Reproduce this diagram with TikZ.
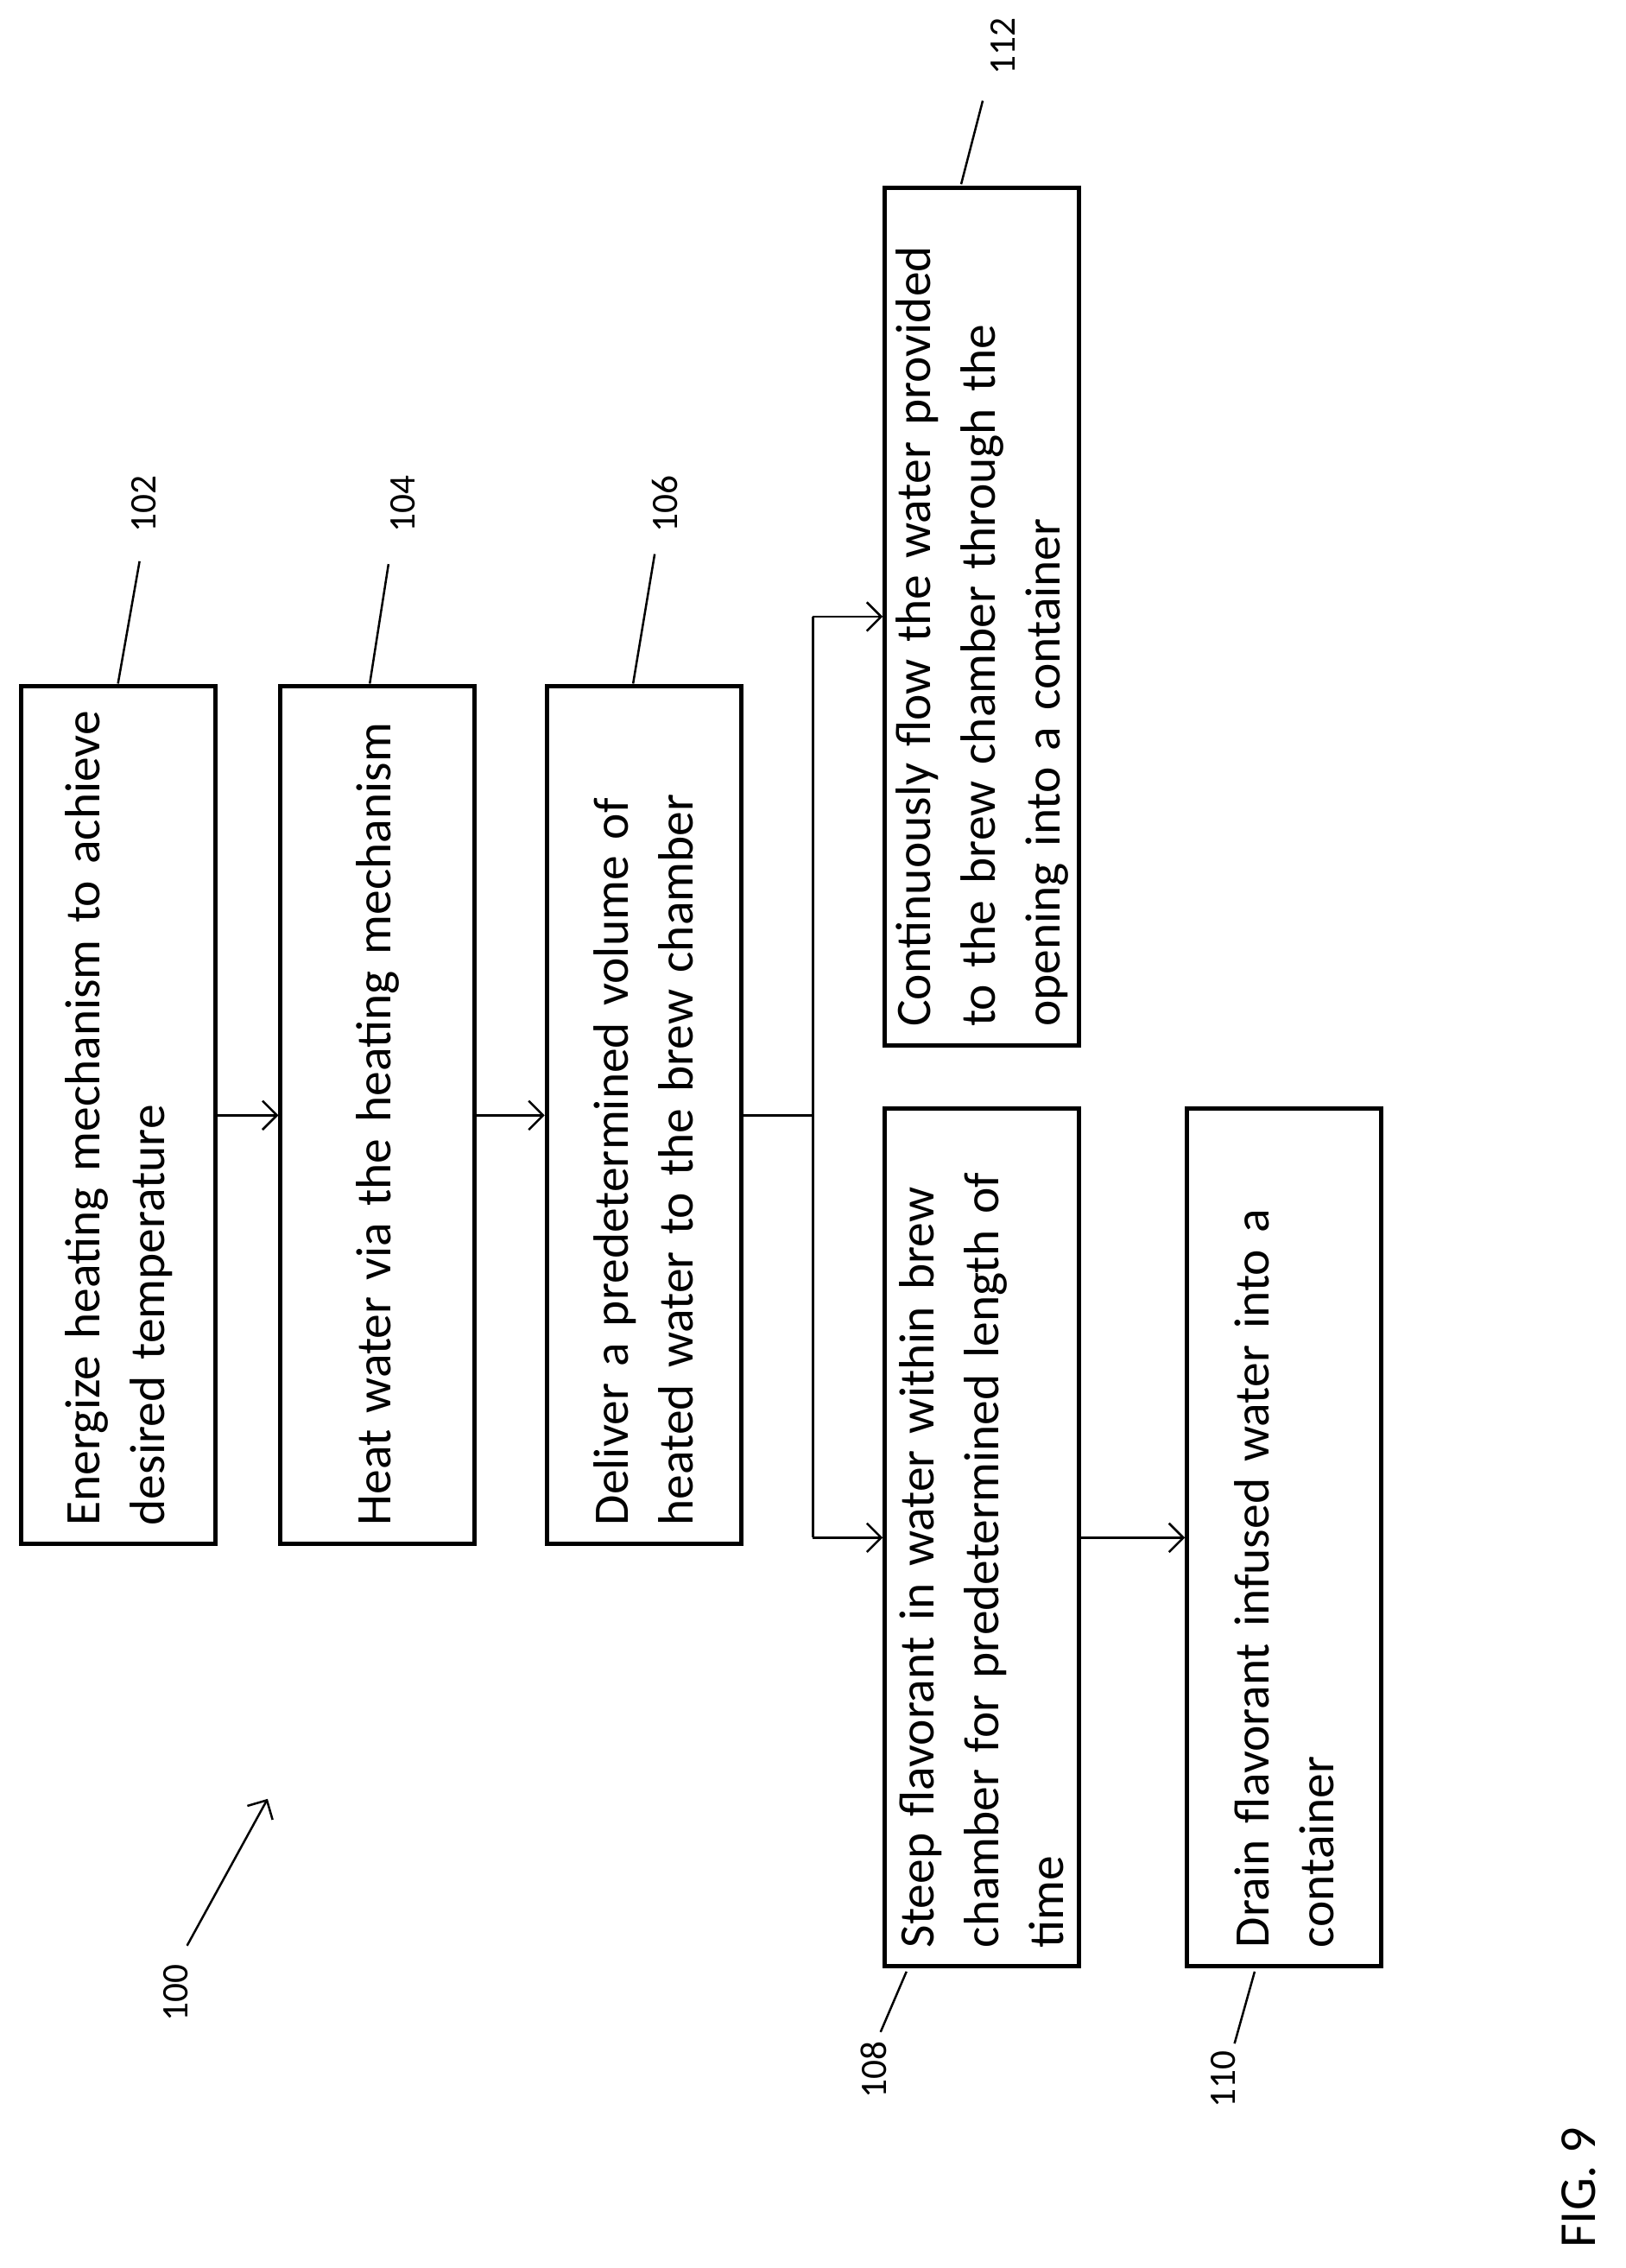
\documentclass[tikz,border=0pt]{standalone}
\usepackage{fontspec}
\setmainfont{Carlito}
\usetikzlibrary{arrows.meta}
\begin{document}
\begin{tikzpicture}[x=1pt,y=-1pt,
  box/.style={draw,line width=3pt,rotate=90,minimum width=596pt,minimum height=135pt,text width=570pt,align=left,inner sep=0pt,font=\fontsize{34.5}{45}\selectfont},
  lab/.style={rotate=90,font=\fontsize{26}{30}\selectfont},
  con/.style={line width=1.5pt},
  arr/.style={con,-{Straight Barb[length=10pt,width=20pt,line width=1.5pt]}}]
\useasboundingbox (0,0) rectangle (1130,1576);
\node[box] (b102) at (82.5,775) {Energize heating mechanism to achieve\\ desired temperature};
\node[box] (b104) at (262.5,775) {Heat water via the heating mechanism};
\node[box] (b106) at (447.5,775) {Deliver a predetermined volume of\\ heated water to the brew chamber};
\node[box] (b112) at (682.5,428.5) {Continuously flow the water provided\\ to the brew chamber through the\\ opening into a container};
\node[box] (b108) at (682.5,1068.5) {Steep flavorant in water within brew\\ chamber for predetermined length of\\ time};
\node[box] (b110) at (892.5,1068.5) {Drain flavorant infused water into a\\ container};
\draw[arr] (b102.south) -- (b104.north);
\draw[arr] (b104.south) -- (b106.north);
\coordinate (j) at (565,775);
\coordinate (jt) at (565,428.5);
\coordinate (jb) at (565,1068.5);
\draw[con] (b106.south) -- (j);
\draw[con] (jt) -- (jb);
\draw[arr] (jt) -- (b112.north);
\draw[arr] (jb) -- (b108.north);
\draw[arr] (b108.south) -- (b110.north);
\node[lab] (l102) at (100,350) {102};
\node[lab] (l104) at (280,350) {104};
\node[lab] (l106) at (462,350) {106};
\node[lab] (l112) at (697,32) {112};
\node[lab] (l108) at (607,1438) {108};
\node[lab] (l110) at (850,1445) {110};
\node[lab] (l100) at (122,1385) {100};
\node[rotate=90,font=\fontsize{36}{40}\selectfont] (fig) at (1097,1520) {FIG. 9};
\coordinate (e102) at (82,475); \coordinate (s102) at (97,390);
\coordinate (e104) at (257,475); \coordinate (s104) at (270,392);
\coordinate (e106) at (440,475); \coordinate (s106) at (455,385);
\coordinate (e112) at (668,128); \coordinate (s112) at (683,70);
\coordinate (e108) at (630,1370); \coordinate (s108) at (612,1412);
\coordinate (e110) at (872,1370); \coordinate (s110) at (858,1420);
\foreach \n in {102,104,106,112,108,110} \draw[con] (e\n) -- (s\n);
\coordinate (a0) at (130,1352); \coordinate (a1) at (186,1250);
\draw[arr] (a0) -- (a1);
\end{tikzpicture}
\end{document}
